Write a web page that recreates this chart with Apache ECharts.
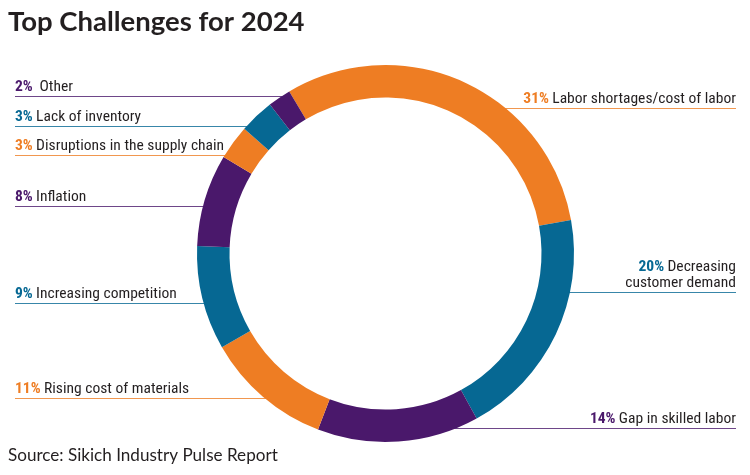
<!DOCTYPE html>
<html><head><meta charset="utf-8">
<script src="https://cdn.jsdelivr.net/npm/echarts@6/dist/echarts.min.js"></script>
<style>html,body{margin:0;padding:0;background:#fff}#c{width:750px;height:475px}</style>
</head><body><div id="c"></div>
<script>
// ---- data ----
const categories = [
  'Labor shortages/cost of labor',
  'Decreasing\ncustomer demand',
  'Gap in skilled labor',
  'Rising cost of materials',
  'Increasing competition',
  'Inflation',
  'Disruptions in the supply chain',
  'Lack of inventory',
  'Other'
];
const values = [31, 20, 14, 11, 9, 8, 3, 3, 2];

// ---- style / layout ----
const ORANGE = '#ee7d23', BLUE = '#066893', PURPLE = '#4a186b';
const sliceColors = [ORANGE, BLUE, PURPLE, ORANGE, BLUE, PURPLE, ORANGE, BLUE, PURPLE];
const labelSide = ['right', 'right', 'right', 'left', 'left', 'left', 'left', 'left', 'left'];
const labelLineY = [108, 292, 428, 398, 303, 206, 155, 126, 96];
const CX = 385.5, CY = 253.5, R_IN = 156, R_OUT = 188.5;
const TEXT_COLOR = '#231f20';

// pick an installed condensed font and size it to the reference text width
const measureCtx = document.createElement('canvas').getContext('2d');
function fontAvailable(name) {
  const t = 'Labor shortages/cost of labor 0123 WMmi';
  let diff = false;
  ['monospace', 'serif'].forEach(function (base) {
    measureCtx.font = '20px ' + base;
    const w0 = measureCtx.measureText(t).width;
    measureCtx.font = '20px "' + name + '", ' + base;
    const w1 = measureCtx.measureText(t).width;
    if (Math.abs(w1 - w0) > 0.5) diff = true;
  });
  return diff;
}
const candidates = ['Roboto Condensed', 'Liberation Sans Narrow', 'DejaVu Sans Condensed'];
const TARGET_W = 184;
let labelFontName = 'Liberation Sans';
for (const c of candidates) { if (fontAvailable(c)) { labelFontName = c; break; } }
measureCtx.font = '16px "' + labelFontName + '"';
const baseW = measureCtx.measureText('Labor shortages/cost of labor').width;
const LABEL_FONT = '"' + labelFontName + '", sans-serif';
const LABEL_SIZE = Math.max(13.5, Math.min(17, 16 * TARGET_W / baseW));

function richFor(color) {
  return {
    p: { color: color, fontFamily: LABEL_FONT, fontWeight: 'bold', fontSize: LABEL_SIZE, lineHeight: 16 },
    n: { color: TEXT_COLOR, fontFamily: LABEL_FONT, fontWeight: 'normal', fontSize: LABEL_SIZE, lineHeight: 16 }
  };
}

const pieData = categories.map((name, i) => ({
  name: name,
  value: values[i],
  itemStyle: { color: sliceColors[i] },
  label: { rich: richFor(sliceColors[i]) },
  labelLine: { lineStyle: { color: sliceColors[i], width: 1, opacity: 0.8 } }
}));

const chart = echarts.init(document.getElementById('c'), null, { renderer: 'canvas' });
chart.setOption({
  animation: false,
  backgroundColor: '#ffffff',
  title: [
    {
      text: 'Top Challenges for 2024',
      left: 8, top: 8.5, padding: 0,
      textStyle: { fontFamily: 'Lato', fontWeight: 'bold', fontSize: 27.5, color: TEXT_COLOR }
    },
    {
      text: 'Source: Sikich Industry Pulse Report',
      left: 8, top: 447, padding: 0,
      textStyle: { fontFamily: 'Lato', fontWeight: 'normal', fontSize: 17.1, color: TEXT_COLOR }
    }
  ],
  series: [{
    type: 'pie',
    silent: true,
    center: [CX, CY],
    radius: [R_IN, R_OUT],
    startAngle: 120.7,
    clockwise: true,
    avoidLabelOverlap: false,
    emphasis: { disabled: true },
    label: {
      show: true,
      position: 'outside',
      formatter: function (p) {
        const i = p.dataIndex;
        const pct = values[i] + '%';
        const parts = categories[i].split('\n');
        const gap = i === 8 ? '  ' : ' ';
        let s = '{p|' + pct + '}' + gap + '{n|' + parts[0] + '}';
        for (let k = 1; k < parts.length; k++) s += '\n{n|' + parts[k] + '}';
        return s;
      }
    },
    labelLine: { show: true, length: 5, length2: 5 },
    labelLayout: function (params) {
      const i = params.dataIndex;
      const y = labelLineY[i] + 0.5;
      const side = labelSide[i];
      const dy = y - CY;
      const dx = Math.sqrt(Math.max(0, R_OUT * R_OUT - dy * dy));
      const xr = side === 'left' ? CX - dx + 2 : CX + dx - 2;
      const edge = side === 'left' ? 15 : 736;
      return {
        x: edge,
        y: y - 1.5,
        align: side,
        verticalAlign: 'bottom',
        labelLinePoints: [[xr, y], [xr, y], [edge, y]]
      };
    },
    data: pieData
  }]
});
</script>
</body></html>
